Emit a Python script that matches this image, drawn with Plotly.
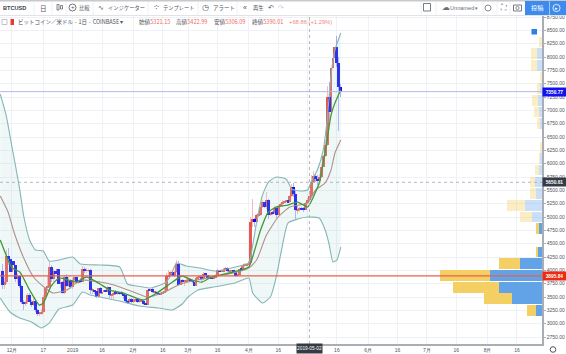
import pandas as pd
import plotly.graph_objects as go

# ---------- daily candles, 2018-11-26 .. 2019-05-18 ----------
first_open = 3990
closes = [
    3720, 3780, 4260, 4220, 3970,
    4170, 4100, 3830, 3900, 3700, 3400, 3380, 3400, 3530, 3400, 3350, 3430, 3250, 3190, 3190, 3220,
    3500, 3670, 3690, 4070, 3830, 3990, 3940, 4030, 3740, 3790, 3580, 3870, 3710, 3820, 3690,
    3820, 3870, 3780, 3800, 3790, 4030, 3990, 3990, 4000, 3630, 3630, 3610, 3500, 3660, 3570, 3600,
    3630, 3600, 3680, 3530, 3530, 3575, 3560, 3570, 3565, 3560, 3530, 3430, 3400, 3455, 3410,
    3435, 3465, 3410, 3415, 3430, 3360, 3355, 3630, 3625, 3650, 3590, 3590, 3570, 3550, 3565, 3580,
    3620, 3890, 3915, 3960, 3900, 3960, 4120, 3730, 3810, 3790, 3790, 3810,
    3820, 3810, 3785, 3700, 3855, 3860, 3870, 3830, 3935, 3915, 3860, 3870, 3855, 3865, 3915, 4000,
    3970, 3975, 4010, 4040, 3985, 3990, 3995, 3970, 3900, 3920, 4030, 4010, 4090, 4095, 4100,
    4140, 4900, 4960, 4900, 5030, 5040, 5190, 5280, 5180, 5310, 5040, 5080, 5075, 5165, 5040,
    5200, 5240, 5280, 5290, 5310, 5280, 5400, 5560, 5430, 5130, 5150, 5170, 5150, 5140, 5270,
    5321.15, 5390.01, 5660, 5770, 5720, 5680, 5750, 5940, 6150, 6350, 7250, 6970, 7800, 7990, 8190,
    7880, 7430, 7350.77,
]
highs = [
    4120, 3860, 4390, 4420, 4290,
    4270, 4190, 4100, 3950, 3920, 3720, 3450, 3430, 3580, 3580, 3440, 3480, 3460, 3270, 3220, 3270,
    3530, 3690, 3900, 4150, 4100, 4030, 4020, 4100, 4050, 3830, 3800, 3900, 3940, 3870, 3840,
    3850, 3880, 3880, 3820, 3850, 4080, 4070, 4040, 4020, 4030, 3660, 3640, 3620, 3670, 3680, 3620,
    3650, 3750, 3700, 3690, 3560, 3620, 3640, 3590, 3590, 3610, 3570, 3540, 3450, 3480, 3480,
    3480, 3490, 3470, 3440, 3440, 3440, 3390, 3660, 3680, 3670, 3660, 3620, 3620, 3590, 3620, 3600,
    3680, 3950, 4000, 3980, 3990, 3980, 4200, 4170, 3860, 3830, 3820, 3880,
    3860, 3850, 3830, 3790, 3880, 3900, 3900, 3910, 3960, 3950, 3920, 3890, 3880, 3900, 3930, 4020,
    4010, 4010, 4040, 4070, 4060, 4010, 4010, 4000, 3980, 3930, 4040, 4050, 4120, 4140, 4120,
    4180, 5000, 5340, 4980, 5060, 5100, 5210, 5320, 5290, 5470, 5340, 5110, 5120, 5200, 5190,
    5230, 5260, 5320, 5350, 5350, 5340, 5420, 5620, 5640, 5490, 5210, 5190, 5180, 5180, 5290,
    5350, 5422.99, 5780, 5870, 5800, 5780, 5810, 5990, 6170, 6450, 7450, 7540, 7950, 8200, 8320,
    8400, 8000, 7500,
]
lows = [
    3650, 3650, 3750, 4100, 3880,
    3930, 4030, 3790, 3760, 3660, 3370, 3250, 3330, 3370, 3400, 3320, 3340, 3220, 3150, 3140, 3170,
    3200, 3460, 3630, 3650, 3790, 3780, 3910, 3920, 3700, 3660, 3550, 3560, 3680, 3690, 3650,
    3650, 3780, 3750, 3740, 3760, 3780, 3950, 3950, 3970, 3560, 3550, 3560, 3480, 3490, 3550, 3550,
    3570, 3590, 3590, 3480, 3470, 3470, 3530, 3540, 3530, 3530, 3470, 3380, 3360, 3390, 3390,
    3380, 3410, 3390, 3390, 3410, 3350, 3350, 3350, 3610, 3610, 3580, 3570, 3550, 3540, 3540, 3560,
    3570, 3610, 3880, 3880, 3890, 3880, 3950, 3700, 3730, 3750, 3700, 3780,
    3790, 3800, 3770, 3680, 3690, 3840, 3860, 3800, 3820, 3880, 3840, 3840, 3830, 3850, 3860, 3910,
    3960, 3960, 3960, 3990, 3960, 3980, 3970, 3950, 3880, 3880, 3910, 3990, 4000, 4060, 4090,
    4120, 4130, 4820, 4810, 4880, 5000, 5020, 5170, 5160, 5150, 4970, 5020, 5040, 5050, 4980,
    5040, 5190, 5190, 5270, 5250, 5220, 5270, 5380, 5370, 4970, 5060, 5100, 5130, 5100, 5140,
    5250, 5306.09, 5380, 5640, 5660, 5600, 5650, 5740, 5930, 6130, 6330, 6800, 6880, 7660, 7820,
    7820, 6620, 7250,
]
opens = [first_open] + closes[:-1]
candle_dates = pd.date_range("2018-11-26", periods=len(closes), freq="D")

# ---------- Bollinger bands and moving average ----------
upper_dates = ["2018-11-25","2018-11-28","2018-12-01","2018-12-03","2018-12-05","2018-12-07","2018-12-10",
    "2018-12-13","2018-12-17","2018-12-20","2018-12-25","2019-01-01","2019-01-05","2019-01-15","2019-01-25",
    "2019-01-29","2019-02-03","2019-02-10","2019-02-17","2019-02-20","2019-02-23","2019-02-28","2019-03-07",
    "2019-03-15","2019-03-23","2019-04-01","2019-04-03","2019-04-05","2019-04-08","2019-04-11","2019-04-15",
    "2019-04-20","2019-04-23","2019-04-27","2019-05-01","2019-05-03","2019-05-06","2019-05-09","2019-05-11",
    "2019-05-13","2019-05-15","2019-05-18"]
upper = [7306,6912,6312,5919,5506,5019,4570,4381,4363,4175,4194,4250,4119,4100,4063,3744,3706,3669,3763,
    3894,4138,4081,4044,3988,4044,4138,4475,4906,5412,5656,5750,5712,5525,5487,5506,5675,5881,6256,6819,
    7662,8131,8450]
lower_dates = ["2018-11-25","2018-11-30","2018-12-05","2018-12-11","2018-12-16","2018-12-20","2018-12-25",
    "2019-01-01","2019-01-06","2019-01-10","2019-01-15","2019-01-25","2019-02-04","2019-02-14","2019-02-21",
    "2019-02-26","2019-03-01","2019-03-06","2019-03-14","2019-03-25","2019-04-01","2019-04-03","2019-04-08",
    "2019-04-12","2019-04-15","2019-04-18","2019-04-21","2019-04-26","2019-05-01","2019-05-07","2019-05-10",
    "2019-05-12","2019-05-14","2019-05-16","2019-05-18"]
lower = [3481,3219,3106,3031,2919,3012,3275,3350,3594,3537,3500,3425,3331,3294,3256,3369,3500,3631,3687,
    3762,3856,3575,3387,3500,3875,4437,4887,4962,5000,4981,4756,4494,4156,4194,4437]
basis_dates = ["2018-11-25","2018-11-29","2018-12-02","2018-12-07","2018-12-12","2018-12-18","2018-12-22",
    "2018-12-29","2019-01-05","2019-01-15","2019-01-22","2019-02-01","2019-02-08","2019-02-16","2019-02-24",
    "2019-03-03","2019-03-11","2019-03-24","2019-04-01","2019-04-05","2019-04-10","2019-04-16","2019-04-22",
    "2019-05-01","2019-05-05","2019-05-10","2019-05-13","2019-05-15","2019-05-18"]
basis = [5394,5094,4719,4231,3875,3669,3575,3631,3819,3781,3725,3594,3500,3575,3725,3800,3856,3950,4044,
    4194,4662,5000,5187,5262,5506,5638,5881,6200,6444]
ma_dates = ["2018-11-25","2018-11-28","2018-12-01","2018-12-05","2018-12-10","2018-12-15","2018-12-17",
    "2018-12-21","2018-12-25","2019-01-03","2019-01-08","2019-01-15","2019-01-20","2019-01-27","2019-02-06",
    "2019-02-13","2019-02-21","2019-02-26","2019-03-03","2019-03-08","2019-03-13","2019-03-24","2019-04-01",
    "2019-04-04","2019-04-07","2019-04-11","2019-04-15","2019-04-21","2019-04-26","2019-05-01","2019-05-03",
    "2019-05-07","2019-05-09","2019-05-11","2019-05-13","2019-05-15","2019-05-18"]
ma = [4569,4287,4044,3969,3631,3350,3387,3706,3856,3781,3875,3744,3631,3575,3444,3575,3781,3894,3819,3781,
    3875,3969,4063,4381,4756,5094,5187,5225,5281,5187,5300,5638,6012,6444,6912,7137,7381]

# ---------- volume profile ----------
profile_prices = [8281,8062,7841,7625,7406,7184,6969,6753,6312,6097,5881,5656,5437,5216,5000,4781,4344,4124,3903,3687,3468,3247]
profile_up = [0,5.3,5.3,0,2,4,3.3,2.3,0,1.7,3,7,6.3,17.3,9.7,2.7,3.7,22.3,52.3,43,30.3,6]
profile_down = [3,6,6,2,3.3,6,4.7,2.3,2.3,1.7,3.7,5,6,18,12.3,3.7,2.7,21,49.3,45.7,27.3,8.7]
profile_faded_from = 5000

# ---------- axes text ----------
price_ticks = [2750+250*i for i in range(25)]
date_ticks = ["2018-12-01","2018-12-17","2019-01-01","2019-01-16","2019-02-01","2019-02-16","2019-03-01",
    "2019-03-16","2019-04-01","2019-04-16","2019-05-01","2019-05-16","2019-06-01","2019-06-16","2019-07-01",
    "2019-07-16","2019-08-01","2019-08-16"]
date_labels = ["12月","17","2019","16","2月","16","3月","16","4月","16","","16","6月","16","7月","16","8月","16"]
last_price, cross_price, poc_price = 7350.77, 5650.61, 3895.84
cross_date = "2019-05-02"

# ---------- layout constants ----------
W, H = 566, 354
ML, MR, MT, MB = 0, 24, 16, 10
def px(x): return (x-ML)/(W-ML-MR)
def py(y): return 1-(y-MT)/(H-MT-MB)
CJK = "Noto Sans CJK JP"
SANS = "Liberation Sans"

DAY = 86400000
up_idx = [i for i in range(len(closes)) if closes[i] >= opens[i]]
dn_idx = [i for i in range(len(closes)) if closes[i] < opens[i]]

fig = go.Figure()
band_line = dict(color="#86b5b5", width=1.1, shape="spline", smoothing=0.5)
fig.add_trace(go.Scatter(x=upper_dates, y=upper, mode="lines", line=band_line, hoverinfo="skip"))
fig.add_trace(go.Scatter(x=lower_dates, y=lower, mode="lines", line=band_line, fill="tonexty",
                         fillcolor="rgba(178,216,216,0.2)", hoverinfo="skip"))

def wick_bar(idx, colour):
    return go.Bar(x=[candle_dates[i] for i in idx], y=[highs[i]-lows[i] for i in idx],
                  base=[lows[i] for i in idx], width=0.45*DAY, marker=dict(color=colour, line_width=0))
def body_bar(idx, colour):
    return go.Bar(x=[candle_dates[i] for i in idx], y=[max(abs(closes[i]-opens[i]), 16) for i in idx],
                  base=[min(opens[i], closes[i]) for i in idx], width=1.5*DAY, marker=dict(color=colour, line_width=0))
fig.add_trace(wick_bar(up_idx, "rgba(238,120,120,0.5)"))
fig.add_trace(wick_bar(dn_idx, "rgba(110,110,255,0.55)"))
fig.add_trace(body_bar(up_idx, "#e9574f"))
fig.add_trace(body_bar(dn_idx, "#0a0af0"))

fig.add_trace(go.Scatter(x=basis_dates, y=basis, mode="lines", hoverinfo="skip",
                         line=dict(color="#b08f8a", width=1.1, shape="spline", smoothing=0.5)))
fig.add_trace(go.Scatter(x=ma_dates, y=ma, mode="lines", hoverinfo="skip",
                         line=dict(color="#3f9a3a", width=1.3, shape="spline", smoothing=0.5)))

up_cols = ["rgba(94,160,232,0.32)" if p >= profile_faded_from else "#62a3e8" for p in profile_prices]
dn_cols = ["rgba(245,207,100,0.38)" if p >= profile_faded_from else "#f4cf63" for p in profile_prices]
fig.add_trace(go.Bar(y=profile_prices, x=profile_up, base=[0]*len(profile_up), orientation="h", width=205,
                     xaxis="x2", marker=dict(color=up_cols, line_width=0)))
fig.add_trace(go.Bar(y=profile_prices, x=profile_down, base=profile_up, orientation="h", width=205,
                     xaxis="x2", marker=dict(color=dn_cols, line_width=0)))

grid = "#eef2f7"
fig.update_layout(
    width=W, height=H, autosize=False, showlegend=False, barmode="overlay", bargap=0,
    paper_bgcolor="white", plot_bgcolor="white", hovermode=False,
    margin=dict(l=ML, r=MR, t=MT, b=MB, pad=0),
    font=dict(family=SANS, size=5, color="#50535e"),
    xaxis=dict(type="date", range=["2018-11-24 21:00", "2019-08-28 19:00"], tickmode="array",
               tickvals=date_ticks, ticktext=date_labels, showgrid=True, gridcolor=grid, gridwidth=1,
               ticks="", ticklen=0, showline=True, linecolor="#a9adb5", linewidth=1.5, zeroline=False,
               tickfont=dict(size=5, color="#50535e", family=SANS), anchor="y", tickangle=0, automargin=False),
    xaxis2=dict(overlaying="x", range=[542, 0], visible=False, anchor="y", showgrid=False, zeroline=False),
    yaxis=dict(side="right", range=[2619, 8769], tickmode="array", tickvals=price_ticks,
               ticktext=[f"{p:.2f}" for p in price_ticks], showgrid=True, gridcolor=grid, gridwidth=1,
               ticks="outside", ticklen=2, tickwidth=1, tickcolor="#a9adb5", showline=True,
               linecolor="#a9adb5", linewidth=1.5, zeroline=False, automargin=False,
               tickfont=dict(size=5, color="#50535e", family=SANS)),
)

shapes = []
def rect(x0, y0, x1, y1, fill=None, line=None, lw=1):
    shapes.append(dict(type="rect", xref="paper", yref="paper", x0=px(x0), x1=px(x1), y0=py(y0), y1=py(y1),
                       fillcolor=fill, line=dict(color=line, width=lw if line else 0), layer="above"))
def circ(cx, cy, r, line, fill=None, lw=0.8):
    shapes.append(dict(type="circle", xref="paper", yref="paper", x0=px(cx-r), x1=px(cx+r), y0=py(cy-r), y1=py(cy+r),
                       fillcolor=fill, line=dict(color=line, width=lw), layer="above"))

# price lines and crosshair
shapes.append(dict(type="line", xref="paper", yref="y", x0=0, x1=1, y0=last_price, y1=last_price,
                   line=dict(color="#b4b6f0", width=1), layer="above"))
shapes.append(dict(type="line", xref="paper", yref="y", x0=0, x1=1, y0=poc_price, y1=poc_price,
                   line=dict(color="#e8604c", width=1.4), layer="above"))
shapes.append(dict(type="line", xref="paper", yref="y", x0=0, x1=1, y0=cross_price, y1=cross_price,
                   line=dict(color="#a3a6af", width=0.8, dash="dot"), layer="above"))
shapes.append(dict(type="line", xref="x", yref="paper", x0=cross_date, x1=cross_date, y0=0, y1=1,
                   line=dict(color="#a3a6af", width=0.8, dash="dot"), layer="above"))

# toolbar chrome
rect(0, 0, 566, 1.5, fill="#c9c9c9")
shapes.append(dict(type="line", xref="paper", yref="paper", x0=0, x1=px(566), y0=py(15.5), y1=py(15.5),
                   line=dict(color="#e0e3eb", width=1), layer="above"))
for sep in [34, 52, 66, 93, 148, 198, 237, 421, 436, 483, 497, 510]:
    shapes.append(dict(type="line", xref="paper", yref="paper", x0=px(sep), x1=px(sep), y0=py(2), y1=py(15),
                       line=dict(color="#eef0f4", width=1), layer="above"))
rect(525, 1, 549, 15, fill="#3d8bec")
rect(549.5, 1, 566, 15, fill="#3d8bec")
circ(556.5, 8, 3.6, "white")
rect(423.5, 3.5, 430.5, 11, line="#6b6e78", lw=0.9)     # rectangle icon
circ(488, 8, 3, "#6b6e78")                               # gear
rect(513.5, 5, 521.5, 11, line="#6b6e78", lw=0.9)       # camera
circ(517.5, 8, 1.6, "#6b6e78")
circ(72.5, 7.5, 3.5, "#50535e")
rect(10.5, 19, 14, 25, fill="#e33b30")                   # symbol flag
rect(2, 19.5, 7, 24.5, line="#9a9ea8", lw=0.6)
rect(531.5, 29, 537, 34.5, fill="#2f7fe6")               # blue marker
# candle icon
rect(57, 4.5, 59, 10, line="#50535e", lw=0.7)
rect(60.5, 5.5, 62.5, 9, line="#50535e", lw=0.7)

anns = []
def txt(x, y, s, size=5.3, color="#50535e", family=CJK, anchor="left"):
    anns.append(dict(xref="paper", yref="paper", x=px(x), y=py(y), text=s, showarrow=False, xanchor=anchor,
                     yanchor="middle", font=dict(size=size, color=color, family=family), borderpad=0))
txt(2, 7.5, "<b>BTCUSD</b>", 5.6, "#3c3f48", SANS)
txt(43, 7.5, "日", 6.5, "#50535e", CJK, "center")
txt(78, 7.5, "比較")
txt(72.5, 7.2, "+", 6, "#50535e", SANS, "center")
txt(97, 7.5, "∿", 7, "#50535e", "DejaVu Sans")
txt(107, 7.5, "インジケーター")
txt(152, 7.5, "⁘", 8, "#50535e", "DejaVu Sans")
txt(162, 7.5, "テンプレート")
txt(205, 7.5, "◷", 8, "#50535e", "DejaVu Sans", "center")
txt(212, 7.5, "アラート", 5.5)
txt(245, 7.5, "«", 7, "#50535e", SANS, "center")
txt(252, 7.5, "再生")
txt(271, 7.5, "↶", 7, "#50535e", "DejaVu Sans", "center")
txt(281, 7.5, "↷", 7, "#c9ccd3", "DejaVu Sans", "center")
txt(441, 7.5, "☁", 8, "#6b6e78", "DejaVu Sans")
txt(449, 7.5, "Unnamed", 5.6, "#6b6e78", SANS)
txt(476, 8, "▾", 5, "#6b6e78", "DejaVu Sans", "center")
txt(503, 7.5, "⛶", 8, "#6b6e78", "DejaVu Sans", "center")
txt(537, 8, "投稿", 6.2, "white", CJK, "center")
txt(556.5, 8, "▸", 5, "white", "DejaVu Sans", "center")

txt(17, 22, "ビットコイン／米ドル · 1日 · COINBASE ▾", 5.5)
red = "#ef6a64"
def ohlc(x, label, value):
    txt(x, 22, f'{label}<span style="color:{red}">{value}</span>', 5.6, "#50535e")
ohlc(138, "始値", "5321.15")
ohlc(175, "高値", "5422.99")
ohlc(213, "安値", "5306.09")
ohlc(250.5, "終値", "5390.01")
txt(288, 22, "+68.86 (+1.29%)", 5.8, "#ef8a85", SANS)

def tag(price, colour):
    anns.append(dict(xref="paper", yref="y", x=px(554.5), y=price, text=f"<b>{price:.2f}</b>", showarrow=False,
                     bgcolor=colour, font=dict(size=4.8, color="white", family=SANS), width=23, height=8,
                     xanchor="center", yanchor="middle", borderpad=0))
tag(last_price, "#1212ee")
tag(cross_price, "#363a45")
tag(poc_price, "#ee2a10")
anns.append(dict(xref="x", yref="paper", x=cross_date, y=py(349), text="2019-05-02", showarrow=False,
                 bgcolor="#363a45", font=dict(size=4.8, color="white", family=SANS), width=25, height=9,
                 xanchor="center", yanchor="middle", borderpad=0))
circ(553, 349.5, 2.8, "#50535e", lw=1)

fig.update_layout(shapes=shapes, annotations=anns)
fig.write_html("out.html", config={"displayModeBar": False},
               post_script="document.body.style.margin='0';document.documentElement.style.overflow='hidden';")
